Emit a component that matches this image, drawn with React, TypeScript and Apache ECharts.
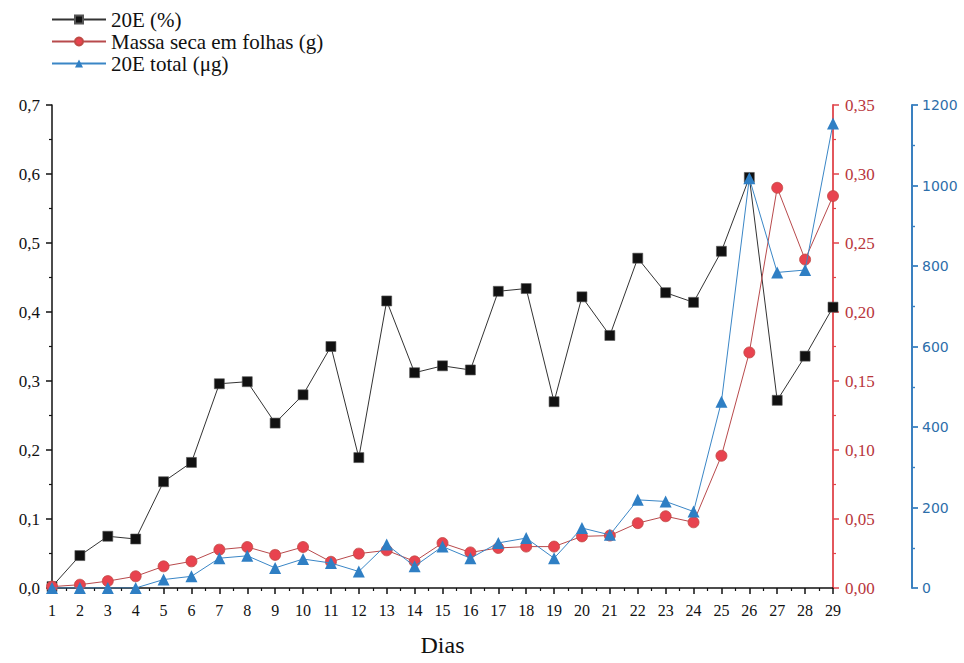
import React, { useEffect, useRef } from "react";
import * as echarts from "echarts";

const days = [1, 2, 3, 4, 5, 6, 7, 8, 9, 10, 11, 12, 13, 14, 15, 16, 17, 18, 19, 20, 21, 22, 23, 24, 25, 26, 27, 28, 29];
const pct20E = [0.002, 0.047, 0.075, 0.071, 0.154, 0.182, 0.296, 0.299, 0.239, 0.28, 0.35, 0.189, 0.416, 0.312, 0.322, 0.316, 0.43, 0.434, 0.27, 0.422, 0.366, 0.478, 0.428, 0.414, 0.488, 0.595, 0.272, 0.336, 0.407];
const massaSeca = [0.001, 0.0024, 0.005, 0.0085, 0.0157, 0.0193, 0.0278, 0.0297, 0.024, 0.0297, 0.019, 0.0249, 0.0273, 0.0193, 0.0326, 0.0258, 0.029, 0.03, 0.03, 0.0374, 0.038, 0.047, 0.052, 0.0476, 0.0958, 0.1707, 0.29, 0.238, 0.284];
const total20E = [0, 0, 0, 0, 21, 29, 74, 80, 50, 72, 62, 41, 108, 54, 103, 74, 112, 124, 74, 149, 132, 219, 215, 190, 463, 1018, 784, 790, 1154];

const seriesNames = ["20E (%)", "Massa seca em folhas (g)", "20E total (μg)"];
const xName = "Dias";

const FONT = "'Liberation Serif', 'Times New Roman', Times, serif";
const SANS = "'DejaVu Sans', Verdana, sans-serif";

export default function App() {
  const ref = useRef<HTMLDivElement>(null);
  useEffect(() => {
    document.body.style.margin = "0";
    if (!ref.current) return;
    const chart = echarts.init(ref.current, null, { renderer: "svg" });
    const comma = (d: number) => (v: number) => v.toFixed(d).replace(".", ",");
    chart.setOption({
      animation: false,
      backgroundColor: "#ffffff",
      textStyle: { fontFamily: FONT },
      legend: {
        orient: "vertical",
        left: 46,
        top: 4,
        itemWidth: 54,
        itemHeight: 10,
        itemGap: 1,
        textStyle: { fontFamily: FONT, fontSize: 21, color: "#111", lineHeight: 21 },
        data: seriesNames,
      },
      grid: { left: 52, right: 131, top: 105, bottom: 75, containLabel: false, outerBoundsMode: "none" },
      xAxis: {
        type: "value",
        min: 1,
        max: 29,
        interval: 1,
        name: xName,
        nameLocation: "middle",
        nameGap: 45,
        nameTextStyle: { fontFamily: FONT, fontSize: 24, lineHeight: 24, color: "#111" },
        axisLine: { lineStyle: { color: "#111", width: 1.5 } },
        axisTick: { length: 6, lineStyle: { color: "#111", width: 1.5 } },
        minorTick: { show: true, splitNumber: 2, length: 3, lineStyle: { color: "#111", width: 1.2 } },
        axisLabel: { fontFamily: FONT, fontSize: 16, color: "#111", margin: 14 },
        splitLine: { show: false },
      },
      yAxis: [
        {
          type: "value",
          min: 0,
          max: 0.7,
          interval: 0.1,
          position: "left",
          axisLine: { show: true, lineStyle: { color: "#111", width: 1.5 } },
          axisTick: { show: true, length: 6, lineStyle: { color: "#111", width: 1.5 } },
          minorTick: { show: true, splitNumber: 2, length: 3, lineStyle: { color: "#111", width: 1.2 } },
          axisLabel: { fontFamily: FONT, fontSize: 17, color: "#111", margin: 12, formatter: comma(1) },
          splitLine: { show: false },
        },
        {
          type: "value",
          min: 0,
          max: 0.35,
          interval: 0.05,
          position: "right",
          axisLine: { show: true, lineStyle: { color: "#e0454b", width: 1.8 } },
          axisTick: { show: true, length: 6, lineStyle: { color: "#e0454b", width: 1.5 } },
          minorTick: { show: true, splitNumber: 2, length: 3, lineStyle: { color: "#e0454b", width: 1.2 } },
          axisLabel: { fontFamily: FONT, fontSize: 17, color: "#b8363c", margin: 12, formatter: comma(2) },
          splitLine: { show: false },
        },
        {
          type: "value",
          min: 0,
          max: 1200,
          interval: 200,
          position: "right",
          offset: 79,
          axisLine: { show: true, lineStyle: { color: "#3a80c0", width: 2 } },
          axisTick: { show: true, length: 6, lineStyle: { color: "#3a80c0", width: 1.8 } },
          minorTick: { show: true, splitNumber: 2, length: 3, lineStyle: { color: "#3a80c0", width: 1.4 } },
          axisLabel: { fontFamily: SANS, fontSize: 14, color: "#2d6eaa", margin: 10, formatter: (v: number) => String(v) },
          splitLine: { show: false },
        },
      ],
      series: [
        {
          name: seriesNames[0],
          type: "line",
          yAxisIndex: 0,
          data: days.map((d, i) => [d, pct20E[i]]),
          symbol: "rect",
          symbolSize: 10,
          itemStyle: { color: "#111", borderColor: "#555", borderWidth: 0.6 },
          lineStyle: { color: "#333", width: 1 },
          z: 2,
        },
        {
          name: seriesNames[1],
          type: "line",
          yAxisIndex: 1,
          data: days.map((d, i) => [d, massaSeca[i]]),
          symbol: "circle",
          symbolSize: 11,
          itemStyle: { color: "#e8434f", borderColor: "#c04a45", borderWidth: 0.8 },
          lineStyle: { color: "#b84a4c", width: 1 },
          z: 3,
        },
        {
          name: seriesNames[2],
          type: "line",
          yAxisIndex: 2,
          data: days.map((d, i) => [d, total20E[i]]),
          symbol: "triangle",
          symbolSize: 12,
          itemStyle: { color: "#2f7fc4", borderColor: "#2f7fc4", borderWidth: 0 },
          lineStyle: { color: "#3a86c6", width: 1 },
          z: 4,
        },
      ],
    });
    return () => chart.dispose();
  }, []);
  return <div ref={ref} style={{ width: 964, height: 663 }} />;
}
